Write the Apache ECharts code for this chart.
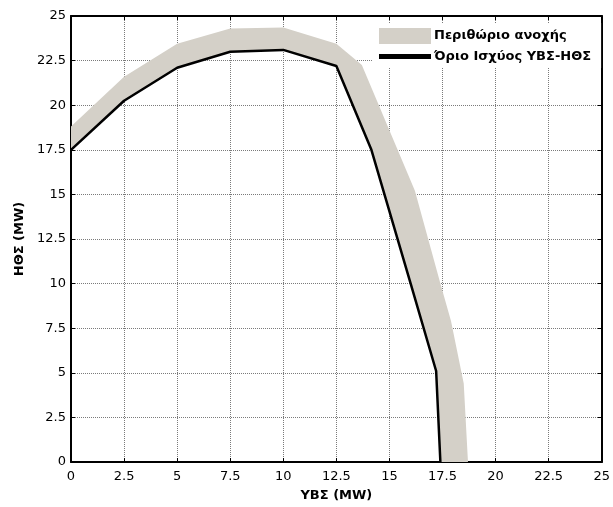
<!DOCTYPE html>
<html>
<head>
<meta charset="utf-8">
<script src="https://cdn.jsdelivr.net/npm/echarts/dist/echarts.min.js"></script>
<style>
html, body { margin: 0; padding: 0; background: #fff; }
#chart { width: 613px; height: 507px; }
</style>
</head>
<body>
<div id="chart"></div>
<script>
// Όριο ισχύος ΥΒΣ-ΗΘΣ (black line)
const limitX = [0, 2.5, 5, 7.5, 10, 12.5, 14.15, 16, 17.2, 17.4]
const limitY = [17.5, 20.25, 22.1, 23, 23.1, 22.2, 17.5, 10, 5.1, 0]

// upper edge of the tolerance band (lower edge is the black line)
const marginX = [0, 2.5, 5, 7.5, 10, 12.5, 13.7, 16.2, 17.4, 17.9, 18.5, 18.7]
const marginY = [18.8, 21.6, 23.45, 24.3, 24.35, 23.45, 22.25, 15.2, 10, 7.9, 4.4, 0]

const axisMin = 0
const axisMax = 25
const axisStep = 2.5

const bandName = 'Περιθώριο ανοχής'
const lineName = 'Όριο Ισχύος ΥΒΣ-ΗΘΣ'

const bandData = marginX.map((x, i) => [x, marginY[i]])
  .concat(limitX.map((x, i) => [x, limitY[i]]).reverse())
const lineData = limitX.map((x, i) => [x, limitY[i]])

const tickFont = {
  color: '#000',
  fontFamily: 'DejaVu Sans',
  fontSize: 13
}

const chart = echarts.init(document.getElementById('chart'))

function mainAxis (extra) {
  return Object.assign({
    type: 'value',
    min: axisMin,
    max: axisMax,
    interval: axisStep,
    axisLine: { onZero: false, lineStyle: { color: '#000', width: 2 } },
    axisTick: { inside: true, length: 4, lineStyle: { color: '#000', width: 1 } },
    splitLine: { show: true, lineStyle: { color: '#7a7a7a', type: 'dotted', width: 1 } },
    nameTextStyle: { color: '#000', fontFamily: 'DejaVu Sans', fontWeight: 'bold', fontSize: 13 }
  }, extra)
}

function boxAxis (pos) {
  return {
    type: 'value',
    position: pos,
    min: axisMin,
    max: axisMax,
    interval: axisStep,
    axisLine: { onZero: false, lineStyle: { color: '#000', width: 2 } },
    axisTick: { inside: true, length: 4, lineStyle: { color: '#000', width: 1 } },
    axisLabel: { show: false },
    splitLine: { show: false }
  }
}

const option = {
  backgroundColor: '#fff',
  animation: false,
  grid: {
    left: 71,
    right: 8,
    top: 16,
    bottom: 44
  },
  legend: {
    orient: 'vertical',
    left: 373,
    top: 23,
    padding: [5, 10, 5, 6],
    itemWidth: 52,
    itemHeight: 16,
    itemGap: 6,
    backgroundColor: '#fff',
    textStyle: { color: '#000', fontFamily: 'DejaVu Sans', fontWeight: 'bold', fontSize: 13, padding: [0, 0, 0, -2] },
    data: [
      { name: bandName, icon: 'rect' },
      { name: lineName, icon: 'path://M0,0H52V5H0Z' }
    ]
  },
  xAxis: [
    mainAxis({
      position: 'bottom',
      name: 'ΥΒΣ (MW)',
      nameLocation: 'middle',
      nameGap: 27,
      axisLabel: Object.assign({ margin: 8 }, tickFont)
    }),
    boxAxis('top')
  ],
  yAxis: [
    mainAxis({
      position: 'left',
      name: 'ΗΘΣ (MW)',
      nameLocation: 'middle',
      nameGap: 45,
      axisLabel: Object.assign({ margin: 5 }, tickFont)
    }),
    boxAxis('right')
  ],
  series: [
    {
      name: bandName,
      type: 'custom',
      itemStyle: { color: '#d4d0c8' },
      clip: true,
      data: bandData,
      renderItem: (params, api) => {
        if (params.dataIndexInside !== 0) return null
        const pts = []
        for (let i = 0; i < params.dataInsideLength; i++) {
          pts.push(api.coord([api.value(0, i), api.value(1, i)]))
        }
        return {
          type: 'polygon',
          shape: { points: pts },
          style: { fill: '#d4d0c8' }
        }
      }
    },
    {
      name: lineName,
      type: 'line',
      data: lineData,
      symbol: 'none',
      itemStyle: { color: '#000' },
      lineStyle: { color: '#000', width: 2.5 },
      z: 3
    }
  ]
}

chart.setOption(option)
</script>
</body>
</html>
